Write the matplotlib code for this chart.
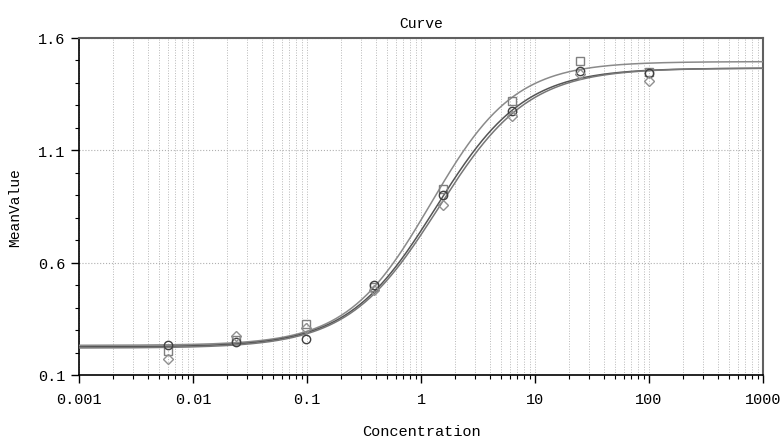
import numpy as np
import matplotlib
matplotlib.use('Agg')
import matplotlib.pyplot as plt
from matplotlib.ticker import FixedLocator, FixedFormatter, LogLocator, NullFormatter

plt.rcParams['font.family'] = ['Liberation Mono', 'DejaVu Sans Mono']

# concentrations (4-fold dilution)
conc = [0.006, 0.024, 0.098, 0.39, 1.56, 6.25, 25, 100]

# mean values
sq_vals = [0.205, 0.255, 0.327, 0.49, 0.93, 1.32, 1.497, 1.45]
ci_vals = [0.235, 0.245, 0.26, 0.50, 0.90, 1.275, 1.455, 1.445]
di_vals = [0.17, 0.272, 0.31, 0.48, 0.855, 1.255, 1.44, 1.41]

# 4PL fit parameters per series: bottom, slope, ec50, top
sq_fit = [0.232, 1.18, 1.22, 1.495]
ci_fit = [0.225, 1.12, 1.35, 1.466]
di_fit = [0.22, 1.10, 1.42, 1.466]

xticks = [0.001, 0.01, 0.1, 1, 10, 100, 1000]
xtick_labels = ['0.001', '0.01', '0.1', '1', '10', '100', '1000']
yticks = [0.1, 0.6, 1.1, 1.6]
ytick_labels = ['0.1', '0.6', '1.1', '1.6']


def four_pl(x, p):
    a, b, c, d = p
    return d + (a - d) / (1 + (x / c) ** b)


fig = plt.figure(figsize=(7.8, 4.39), dpi=100)
ax = fig.add_axes([79 / 780, 1 - 376 / 439, (763 - 79) / 780, (376 - 39) / 439])

xs = np.logspace(-3, 3, 400)
ax.plot(xs, four_pl(xs, sq_fit), color='#8a8a8a', lw=1.1, zorder=3)
ax.plot(xs, four_pl(xs, ci_fit), color='#555555', lw=1.1, zorder=3)
ax.plot(xs, four_pl(xs, di_fit), color='#777777', lw=1.1, zorder=3)

ax.plot(conc, sq_vals, 's', ms=6, mfc='none', mec='#808080', mew=1.0, zorder=4)
ax.plot(conc, ci_vals, 'o', ms=6, mfc='none', mec='#404040', mew=1.0, zorder=4)
ax.plot(conc, di_vals, 'D', ms=5.5, mfc='none', mec='#909090', mew=1.0, zorder=4)

ax.set_xscale('log')
ax.set_xlim(0.001, 1000)
ax.set_ylim(0.1, 1.6)

ax.xaxis.set_major_locator(FixedLocator(xticks))
ax.xaxis.set_major_formatter(FixedFormatter(xtick_labels))
ax.xaxis.set_minor_locator(LogLocator(base=10, subs=np.arange(2, 10), numticks=20))
ax.xaxis.set_minor_formatter(NullFormatter())
ax.yaxis.set_major_locator(FixedLocator(yticks))
ax.yaxis.set_major_formatter(FixedFormatter(ytick_labels))
ax.yaxis.set_minor_locator(FixedLocator(np.arange(0.1, 1.61, 0.1)))

ax.grid(True, which='both', axis='x', color='#b8b8b8', ls=':', lw=0.7)
ax.grid(True, which='major', axis='y', color='#b0b0b0', ls=':', lw=0.8)

ax.tick_params(axis='both', which='major', direction='out', length=6, width=1, labelsize=11, colors='black')
ax.tick_params(axis='both', which='minor', direction='out', length=3, width=0.8)
ax.tick_params(axis='x', pad=6)

for s in ['left', 'bottom']:
    ax.spines[s].set_linewidth(1.2)
ax.spines['top'].set_color('#606060')
ax.spines['top'].set_linewidth(1.5)
ax.spines['right'].set_color('#606060')
ax.spines['right'].set_linewidth(1.5)

ax.set_title('Curve', fontsize=10.5, pad=8)
ax.set_xlabel('Concentration', fontsize=11, labelpad=13)
ax.set_ylabel('MeanValue', fontsize=10.5, labelpad=12)

fig.savefig('out.png', dpi=100)
